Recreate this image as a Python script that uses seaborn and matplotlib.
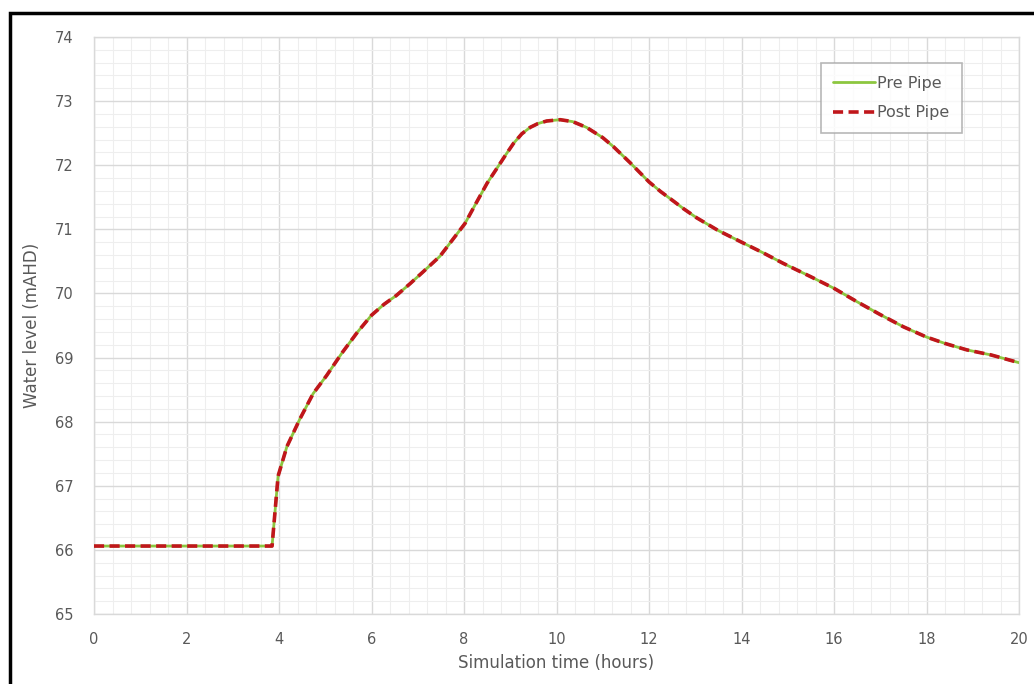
import matplotlib
matplotlib.use("Agg")
import matplotlib.pyplot as plt
from matplotlib.patches import Rectangle
from matplotlib.ticker import MultipleLocator
import seaborn as sns
import pandas as pd

# ---- data ----
time_hours = [0, 1, 2, 3, 3.85, 3.98, 4.17, 4.45, 4.74, 5.03, 5.36, 5.7, 6.0, 6.27, 6.54,
              6.83, 7.12, 7.48, 7.84, 8.02, 8.27, 8.5, 8.71, 8.9, 9.07, 9.25, 9.43, 9.6,
              9.79, 10.08, 10.35, 10.65, 11.0, 11.23, 11.59, 12.0, 12.25, 12.53, 12.75,
              13.03, 13.5, 14.0, 14.45, 14.9, 15.5, 16.0, 16.5, 17.0, 17.5, 18.0, 18.4,
              18.87, 19.4, 20]
pre_pipe = [66.06, 66.06, 66.06, 66.06, 66.06, 67.15, 67.61, 68.04, 68.44, 68.72, 69.07,
            69.4, 69.66, 69.83, 69.97, 70.15, 70.34, 70.58, 70.92, 71.09, 71.42, 71.72,
            71.95, 72.16, 72.34, 72.49, 72.59, 72.65, 72.69, 72.71, 72.68, 72.59, 72.43,
            72.29, 72.04, 71.74, 71.59, 71.44, 71.32, 71.18, 70.98, 70.8, 70.64, 70.47,
            70.26, 70.08, 69.87, 69.67, 69.48, 69.32, 69.22, 69.12, 69.04, 68.92]
post_pipe = [66.06, 66.06, 66.06, 66.06, 66.06, 67.15, 67.61, 68.04, 68.44, 68.72, 69.07,
             69.4, 69.66, 69.83, 69.97, 70.15, 70.34, 70.58, 70.92, 71.09, 71.42, 71.72,
             71.95, 72.16, 72.34, 72.49, 72.59, 72.65, 72.69, 72.71, 72.68, 72.59, 72.43,
             72.29, 72.04, 71.74, 71.59, 71.44, 71.32, 71.18, 70.98, 70.8, 70.64, 70.47,
             70.26, 70.08, 69.87, 69.67, 69.48, 69.32, 69.22, 69.12, 69.04, 68.92]
series_names = ["Pre Pipe", "Post Pipe"]
x_ticks = [0, 2, 4, 6, 8, 10, 12, 14, 16, 18, 20]
y_ticks = [65, 66, 67, 68, 69, 70, 71, 72, 73, 74]

sns.set_theme(style="white")
plt.rcParams["font.family"] = ["DejaVu Sans"]

fig = plt.figure(figsize=(10.34, 6.84), dpi=100)
ax = fig.add_axes([94/1034, 1 - 614/684, (1019 - 94)/1034, (614 - 37)/684])

df_pre = pd.DataFrame({"time": time_hours, "level": pre_pipe})
df_post = pd.DataFrame({"time": time_hours, "level": post_pipe})

sns.lineplot(data=df_pre, x="time", y="level", ax=ax, color="#8cc63f",
             linewidth=2.0, label=series_names[0], zorder=3)
sns.lineplot(data=df_post, x="time", y="level", ax=ax, color="#c0161b",
             linewidth=2.6, label=series_names[1], zorder=4)
ax.lines[1].set_linestyle((0, (2.8, 1.5)))
ax.lines[1].set_solid_joinstyle("round")
ax.lines[0].set_solid_joinstyle("round")

ax.set_xlim(0, 20)
ax.set_ylim(65, 74)
ax.set_xticks(x_ticks)
ax.set_yticks(y_ticks)
ax.xaxis.set_minor_locator(MultipleLocator(0.4))
ax.yaxis.set_minor_locator(MultipleLocator(0.2))
ax.grid(which="major", color="#d9d9d9", linewidth=1.0)
ax.grid(which="minor", color="#eeeeee", linewidth=0.8)
ax.set_axisbelow(True)
for s in ax.spines.values():
    s.set_color("#d9d9d9")
    s.set_linewidth(1.0)

ax.tick_params(axis="both", which="both", length=0, labelsize=10.5, labelcolor="#595959")
ax.tick_params(axis="x", pad=13)
ax.tick_params(axis="y", pad=15)
ax.set_xlabel("Simulation time (hours)", fontsize=12, color="#595959", labelpad=5)
ax.set_ylabel("Water level (mAHD)", fontsize=12, color="#595959", labelpad=10)

# legend: build handles from the plotted lines so the dashed style carries over
handles = ax.lines[:2]
leg = ax.legend(handles, series_names, loc="upper right", bbox_to_anchor=(0.938, 0.955),
                frameon=True, fancybox=False, edgecolor="#a6a6a6", fontsize=11.5,
                handlelength=2.6, handletextpad=0.1, borderpad=0.8, labelspacing=0.9,
                borderaxespad=0)
for t in leg.get_texts():
    t.set_color("#595959")
leg.get_frame().set_linewidth(1.2)

# outer black border (clipped by the image edges on the right and bottom)
fig.add_artist(Rectangle((10/1034, -0.1), 1.2, (684 - 13)/684 + 0.1,
                         transform=fig.transFigure, fill=False, edgecolor="black",
                         linewidth=2.5))

fig.savefig("out.png", dpi=100)
